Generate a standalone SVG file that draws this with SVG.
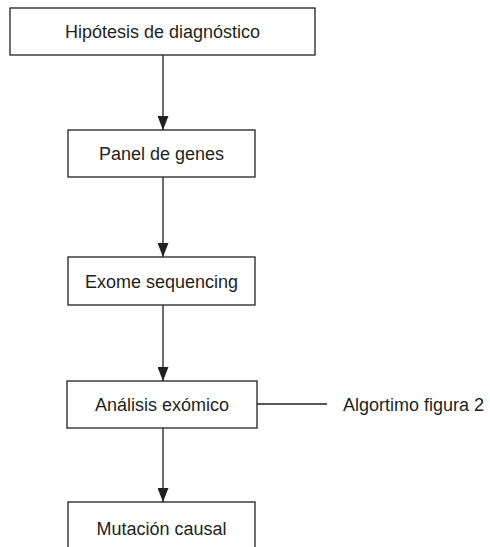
<svg xmlns="http://www.w3.org/2000/svg" width="490" height="547" viewBox="0 0 490 547">
<defs>
<style>
.box{fill:#fff;stroke:#231f20;stroke-width:1.3}
.t{font-family:"Liberation Sans",Arial,sans-serif;font-size:18px;fill:#231f20}
.c{text-anchor:middle}
.ln{stroke:#231f20;stroke-width:1.3;fill:none}
</style>
<marker id="ah" viewBox="0 0 14 11" refX="14" refY="5.5" markerWidth="14" markerHeight="11" markerUnits="userSpaceOnUse" orient="auto">
<path d="M0,0 L14,5.5 L0,11 Z" fill="#231f20"/>
</marker>
</defs>
<rect width="490" height="547" fill="#fff"/>
<g id="connectors">
<line class="ln" x1="163" y1="55" x2="163" y2="130" marker-end="url(#ah)"/>
<line class="ln" x1="163" y1="177" x2="163" y2="257" marker-end="url(#ah)"/>
<line class="ln" x1="163" y1="305" x2="163" y2="381" marker-end="url(#ah)"/>
<line class="ln" x1="163" y1="428" x2="163" y2="502" marker-end="url(#ah)"/>
<line class="ln" x1="257" y1="404" x2="327" y2="404"/>
</g>
<g id="n1"><rect class="box" x="10" y="8" width="305" height="47"/><text class="t c" x="162.5" y="38">Hipótesis de diagnóstico</text></g>
<g id="n2"><rect class="box" x="68" y="130" width="187" height="47"/><text class="t c" x="161.5" y="160">Panel de genes</text></g>
<g id="n3"><rect class="box" x="68" y="257" width="187" height="48"/><text class="t c" x="161.5" y="288">Exome sequencing</text></g>
<g id="n4"><rect class="box" x="67" y="381" width="190" height="47"/><text class="t c" x="162" y="411">Análisis exómico</text></g>
<g id="n5"><rect class="box" x="68" y="502" width="187" height="60"/><text class="t c" x="161.5" y="535">Mutación causal</text></g>
<g id="n6"><text class="t" x="343" y="411">Algortimo figura 2</text></g>
</svg>
